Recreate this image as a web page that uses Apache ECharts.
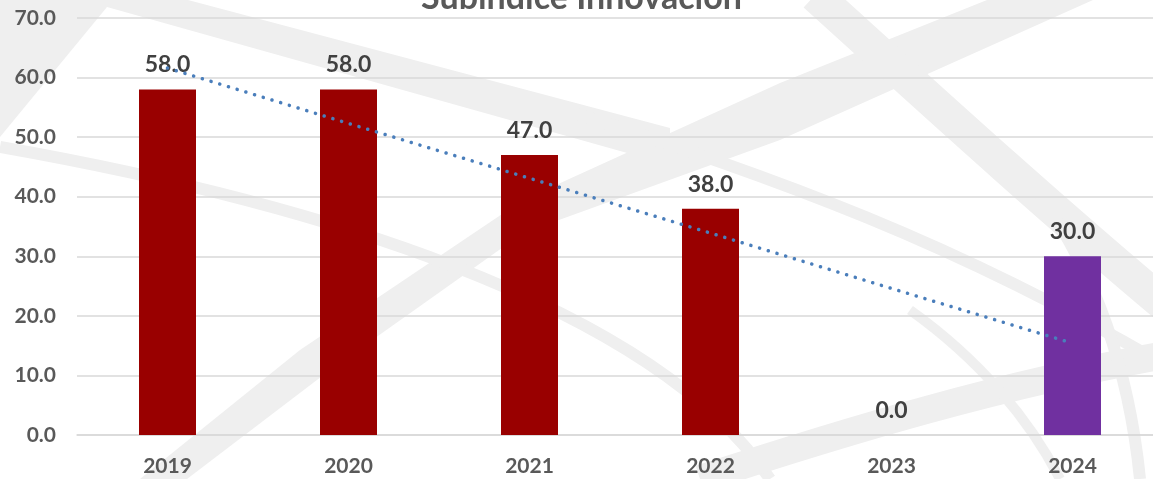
<!DOCTYPE html>
<html><head><meta charset="utf-8">
<script src="https://cdn.jsdelivr.net/npm/echarts@6/dist/echarts.min.js"></script>
<style>html,body{margin:0;padding:0;background:#fff;overflow:hidden;width:1153px;height:479px}#c{width:1163px;height:479px}</style>
</head><body><div id="c"></div>
<script>
var categories = ['2019','2020','2021','2022','2023','2024'];
var values = [58.0, 58.0, 47.0, 38.0, 0.0, 30.0];
var barColors = ['#990000','#990000','#990000','#990000','#990000','#7030A0'];
var trendValues = [61.6, 52.3, 43.1, 33.9, 24.6, 15.4];
var titleText = 'Subíndice Innovación';

var chart = echarts.init(document.getElementById('c'));
var F = 'Lato, "Open Sans", sans-serif';
var sw = '#efefef';
function curve(x1,y1,c1x,c1y,c2x,c2y,x2,y2,w){
  return {type:'bezierCurve', z:-10, silent:true,
    shape:{x1:x1,y1:y1,cpx1:c1x,cpy1:c1y,cpx2:c2x,cpy2:c2y,x2:x2,y2:y2},
    style:{stroke:sw,lineWidth:w,fill:null}};
}
function poly(pts){
  return {type:'polygon', z:-10, silent:true, shape:{points:pts}, style:{fill:sw}};
}
chart.setOption({
  backgroundColor: '#fff',
  animation: false,
  graphic: [
    poly([[0,0],[188,0],[670,128],[670,165],[107,7],[0,137]]),
    poly([[140,479],[300,350],[523,200],[780,83],[987,0],[1093,0],[780,140],[523,233],[330,370],[187,479]]),
    curve(815,-5, 920,90, 1040,200, 1165,305, 34),
    curve(0,147, 300,200, 650,300, 770,479, 12),
    curve(575,113, 780,180, 950,240, 1165,365, 12),
    curve(700,479, 850,430, 1000,385, 1165,355, 28),
    curve(1040,195, 1100,280, 1130,380, 1140,479, 12),
    curve(910,310, 980,360, 1030,420, 1060,479, 10)
  ],
  title: {
    text: titleText, left: 'center', top: -24,
    textStyle: {fontFamily: F, fontWeight: 'bold', fontSize: 34, color: '#595959'}
  },
  grid: {left: 77, right: 0, top: 18, height: 417},
  xAxis: {
    type: 'category', data: categories,
    axisLine: {show: true, lineStyle: {color: '#d9d9d9', width: 1.5}},
    axisTick: {show: false},
    axisLabel: {fontFamily: F, fontWeight: 'bold', fontSize: 21, color: '#595959', margin: 21}
  },
  yAxis: {
    type: 'value', min: 0, max: 70, interval: 10,
    axisLine: {show: false}, axisTick: {show: false},
    splitLine: {lineStyle: {color: '#d9d9d9', width: 1.5}},
    axisLabel: {fontFamily: F, fontWeight: 'bold', fontSize: 21, color: '#595959', margin: 21,
      formatter: function(v){return v.toFixed(1);}}
  },
  series: [
    {
      type: 'bar', barWidth: 57, z: 2,
      data: values.map(function(v,i){return {value: v, itemStyle: {color: barColors[i]}};}),
      label: {show: true, position: 'top', distance: 13, fontFamily: F, fontWeight: 'bold', fontSize: 23, color: '#404040',
        formatter: function(p){return p.value.toFixed(1);}}
    },
    {
      type: 'line', data: trendValues, symbol: 'none', z: 5, silent: true,
      lineStyle: {color: '#4A7EBB', width: 3.5, type: [0.1, 9], cap: 'round'}
    }
  ]
});
</script></body></html>
